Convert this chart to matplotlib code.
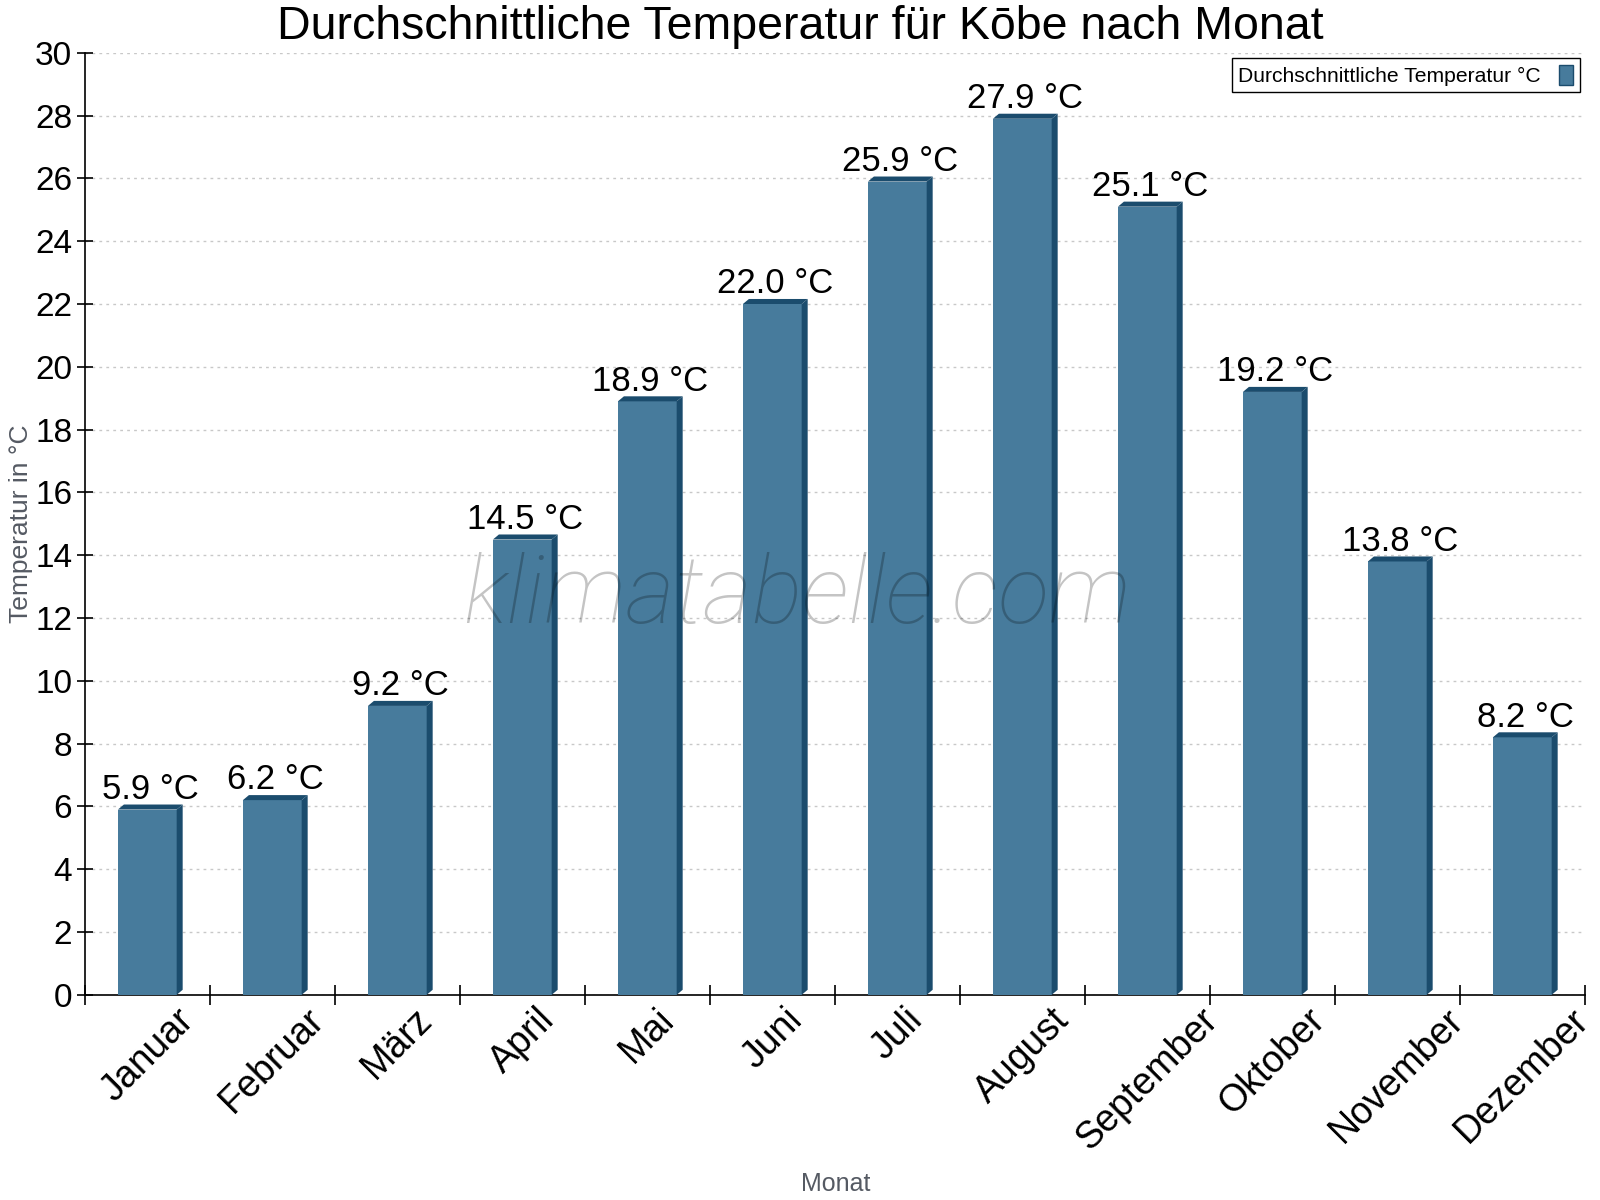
import matplotlib
matplotlib.use("Agg")
import matplotlib.pyplot as plt
from matplotlib.patches import Polygon

plt.rcParams['font.family'] = ['Liberation Sans', 'DejaVu Sans']

months = ["Januar", "Februar", "März", "April", "Mai", "Juni", "Juli",
          "August", "September", "Oktober", "November", "Dezember"]
temps = [5.9, 6.2, 9.2, 14.5, 18.9, 22.0, 25.9, 27.9, 25.1, 19.2, 13.8, 8.2]

front_color = "#477b9c"
dark_color = "#1b4c6d"

fig = plt.figure(figsize=(16, 12), dpi=100)
ax = fig.add_axes([0.053, 0.171, 0.9375, 0.785])

width = 0.47
dx = 0.048   # depth of the 3d effect in category units
dy = 0.16    # depth of the 3d effect in degrees

xs = list(range(len(months)))
ax.bar(xs, temps, width=width, color=front_color, zorder=3)
for x, v in zip(xs, temps):
    xl, xr = x - width / 2, x + width / 2
    side = Polygon([(xr, 0), (xr + dx, dy), (xr + dx, v + dy), (xr, v)],
                   closed=True, facecolor=dark_color, edgecolor="none", zorder=3)
    top = Polygon([(xl, v), (xl + dx, v + dy), (xr + dx, v + dy), (xr, v)],
                  closed=True, facecolor=dark_color, edgecolor="none", zorder=3)
    ax.add_patch(side)
    ax.add_patch(top)
    ax.annotate("{:.1f} °C".format(v), (x + dx / 2, v + dy), xytext=(0, -1),
                textcoords="offset points", ha="center", va="bottom",
                fontsize=25, color="black", zorder=4)

ax.set_xlim(-0.5, len(months) - 0.5)
ax.set_ylim(0, 30)
ax.set_yticks(range(0, 31, 2))
ax.tick_params(axis="y", labelsize=24, direction="inout", length=12, width=1.2, pad=3)

# category labels at centres, ticks at the boundaries
ax.set_xticks(xs)
ax.set_xticklabels(months, rotation=45, ha="center", va="top", fontsize=27)
ax.tick_params(axis="x", which="major", length=0, pad=5)
ax.set_xticks([x - 0.5 for x in xs] + [len(months) - 0.5], minor=True)
ax.tick_params(axis="x", which="minor", direction="inout", length=14, width=1.2)

ax.grid(axis="y", color="#c8c8c8", linestyle=(0, (2, 3)), linewidth=1, zorder=0)
ax.set_axisbelow(True)
for s in ["top", "right"]:
    ax.spines[s].set_visible(False)
ax.spines["left"].set_linewidth(1.2)
ax.spines["bottom"].set_linewidth(1.2)

fig.text(0.5, 1 - 39 / 1200, "Durchschnittliche Temperatur für Kōbe nach Monat",
         fontsize=33.5, ha="center", va="baseline")
fig.text(0.522, 1 - 1184 / 1200, "Monat", fontsize=18, color="#555a63",
         ha="center", va="center")
fig.text(21 / 1600, 1 - 524 / 1200, "Temperatur in °C", fontsize=19, color="#555a63",
         ha="center", va="center", rotation=90)

ax.text(0.475, 0.395, "klimatabelle.com", transform=ax.transAxes, fontsize=68,
        family=["Roboto", "DejaVu Sans"], weight="light", style="italic",
        color="black", alpha=0.23, ha="center", va="baseline", zorder=5)

leg_handle = plt.Rectangle((0, 0), 1, 1, facecolor=front_color, edgecolor=dark_color)
leg = ax.legend([leg_handle], ["Durchschnittliche Temperatur °C"], loc="upper right",
                fontsize=15.2, markerfirst=False, fancybox=False, framealpha=1,
                edgecolor="black", handlelength=0.65, handleheight=1.1,
                borderpad=0.3, handletextpad=0.9,
                borderaxespad=0.0, bbox_to_anchor=(0.9965, 0.994))
leg.get_frame().set_linewidth(1)

fig.savefig("out.png", dpi=100)
